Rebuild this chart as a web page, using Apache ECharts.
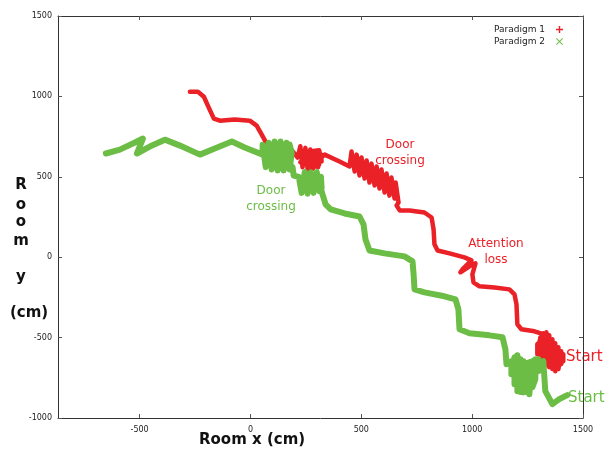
<!DOCTYPE html>
<html><head><meta charset="utf-8">
<script src="https://cdn.jsdelivr.net/npm/echarts@6/dist/echarts.min.js"></script>
<style>html,body{margin:0;padding:0;background:#fff}#c{width:610px;height:449px}</style>
</head><body><div id="c"></div>
<script>
const seriesNames = ['Paradigm 1', 'Paradigm 2'];
const xTicks = [-500, 0, 500, 1000, 1500];
const yTicks = [-1000, -500, 0, 500, 1000, 1500];
// Paradigm 1 trajectory (x cm, y cm)
const paradigm1 = [
  [-273,1029],[-237,1029],[-210,998],[-188,930],[-165,862],[-138,849],[-71,856],[-3,849],
  [28,818],[51,762],[78,694],[109,669],[146,682],[177,682],
  [213,620],[225,690],[235,560],[248,680],[258,545],[270,670],[282,550],[295,660],[305,560],[318,640],[321,595],[310,665],
  [220,650],[300,610],[225,590],[310,575],[260,545],
  [335,638],[402,595],[447,564],
  [456,657],[470,533],[479,638],[492,508],[501,620],[515,489],[524,601],[537,464],[546,582],[560,446],
  [569,564],[582,427],[591,545],[605,402],[614,520],[627,383],[636,495],[650,365],[655,464],[668,340],
  [659,322],[673,291],[718,291],[785,278],[817,247],[826,173],[830,80],[844,42],[898,24],[965,-1],[997,-20],
  [956,-76],[947,-94],[988,-57],[1015,-38],
  [1001,-107],[1006,-156],[1033,-181],[1101,-188],[1168,-200],[1191,-231],[1200,-293],[1204,-417],
  [1222,-448],[1281,-461],[1339,-486],
  [1294,-541],[1294,-603],[1308,-498],[1308,-634],[1321,-473],[1321,-659],[1335,-467],[1335,-672],
  [1348,-486],[1348,-684],[1362,-510],[1362,-696],[1375,-535],[1375,-709],[1389,-560],[1389,-696],
  [1402,-585],[1402,-665],[1411,-603],[1411,-647]
];
// Paradigm 2 trajectory (x cm, y cm)
const paradigm2 = [
  [-652,645],[-589,669],[-521,713],[-485,738],[-512,645],[-454,688],[-386,731],[-318,694],[-228,638],
  [-161,676],[-84,719],[-26,682],[55,638],
  [55,700],[69,560],[82,712],[96,545],[109,719],[123,540],[136,719],[150,540],[163,712],[177,545],
  [186,650],[177,700],[160,600],[190,560],[195,508],
  [218,500],[231,400],[245,530],[258,395],[272,528],[285,400],[299,530],[312,410],[318,500],[321,430],
  [225,470],[315,455],[321,409],
  [339,328],[362,297],[425,272],[492,253],[510,204],[519,110],[537,42],[605,24],[695,5],
  [731,-26],[736,-107],[740,-200],[785,-219],[875,-243],[925,-262],[938,-324],[943,-448],[988,-473],
  [1078,-486],[1137,-498],[1150,-572],[1155,-666],
  [1177,-647],[1177,-728],[1191,-622],[1191,-790],[1204,-610],[1204,-833],[1218,-634],[1218,-839],
  [1231,-647],[1231,-821],[1245,-684],[1245,-839],[1258,-666],[1258,-852],[1272,-647],[1272,-808],
  [1285,-759],[1285,-634],[1299,-709],[1299,-634],
  [1185,-690],[1290,-690],[1195,-745],[1285,-745],[1205,-800],[1275,-795],[1230,-840],[1300,-660],
  [1321,-647],[1330,-833],[1362,-914],[1393,-883],[1429,-858]
];

const red = '#ea2228', green = '#6cbd45';
const chart = echarts.init(document.getElementById('c'));
const tick = {show: true, inside: true, length: 4, lineStyle: {color: '#555'}};
const axisLine = {show: true, onZero: false, lineStyle: {color: '#333', width: 1}};
const lbl = {fontFamily: 'DejaVu Sans', fontSize: 8, color: '#222', formatter: v => String(v)};
const plus = 'path://M4,0H6V4H10V6H6V10H4V6H0V4H4Z';
const cross = 'path://M1,0L5,4L9,0L10,1L6,5L10,9L9,10L5,6L1,10L0,9L4,5L0,1Z';
const titleFont = {fontFamily: 'DejaVu Sans', fontWeight: 'bold', fontSize: 15, fill: '#111'};
const yTitle = [['R',21,185],['o',21,205],['o',21,222],['m',21,241],['y',21,277],['(cm)',29,313]];
const annFont = {fontFamily: 'DejaVu Sans', fontSize: 12, lineHeight: 16, align: 'center', verticalAlign: 'middle'};
chart.setOption({
  animation: false,
  grid: {left: 58, right: 27, top: 16, bottom: 31},
  legend: {
    right: 42, top: 20, orient: 'vertical', align: 'right', itemGap: 3,
    itemWidth: 7, itemHeight: 7,
    textStyle: {fontFamily: 'DejaVu Sans', fontSize: 9, color: '#222', padding: [0, 6, 0, 0]},
    data: [{name: seriesNames[0], icon: plus, itemStyle: {color: red}},
           {name: seriesNames[1], icon: cross, itemStyle: {color: green}}]
  },
  xAxis: [
    {type: 'value', min: -868, max: 1500, position: 'bottom', axisLine, splitLine: {show: false},
     axisLabel: Object.assign({customValues: xTicks, margin: 8}, lbl),
     axisTick: Object.assign({customValues: xTicks}, tick)},
    {type: 'value', min: -868, max: 1500, position: 'top', axisLine, splitLine: {show: false},
     axisLabel: {show: false}, axisTick: Object.assign({customValues: xTicks}, tick)}
  ],
  yAxis: [
    {type: 'value', min: -1000, max: 1500, position: 'left', axisLine, splitLine: {show: false},
     axisLabel: Object.assign({customValues: yTicks, margin: 6}, lbl),
     axisTick: Object.assign({customValues: yTicks}, tick)},
    {type: 'value', min: -1000, max: 1500, position: 'right', axisLine, splitLine: {show: false},
     axisLabel: {show: false}, axisTick: Object.assign({customValues: yTicks}, tick)}
  ],
  series: [
    {name: seriesNames[0], type: 'line', data: paradigm1, showSymbol: false, symbol: 'none',
     itemStyle: {color: red}, lineStyle: {color: red, width: 4.5, join: 'round', cap: 'round'}},
    {name: seriesNames[1], type: 'line', data: paradigm2, showSymbol: false, symbol: 'none',
     itemStyle: {color: green}, lineStyle: {color: green, width: 6, join: 'round', cap: 'round'}}
  ],
  graphic: [
    {type: 'text', left: 199, top: 433, style: Object.assign({text: 'Room x (cm)'}, titleFont)},
    ...yTitle.map(([t, x, y]) => ({type: 'text', x: x, y: y,
      style: Object.assign({text: t, align: 'center', verticalAlign: 'middle'}, titleFont)})),
    {type: 'text', x: 271, y: 199, style: Object.assign({text: 'Door\ncrossing', fill: green}, annFont)},
    {type: 'text', x: 400, y: 153, style: Object.assign({text: 'Door\ncrossing', fill: red}, annFont)},
    {type: 'text', x: 496, y: 252, style: Object.assign({text: 'Attention\nloss', fill: red}, annFont)},
    {type: 'text', x: 566, y: 357, style: {text: 'Start', verticalAlign: 'middle',
      fontFamily: 'DejaVu Sans', fontSize: 15, fill: red}},
    {type: 'text', x: 568, y: 398, style: {text: 'Start', verticalAlign: 'middle',
      fontFamily: 'DejaVu Sans', fontSize: 15, fill: green}}
  ]
});
</script></body></html>
